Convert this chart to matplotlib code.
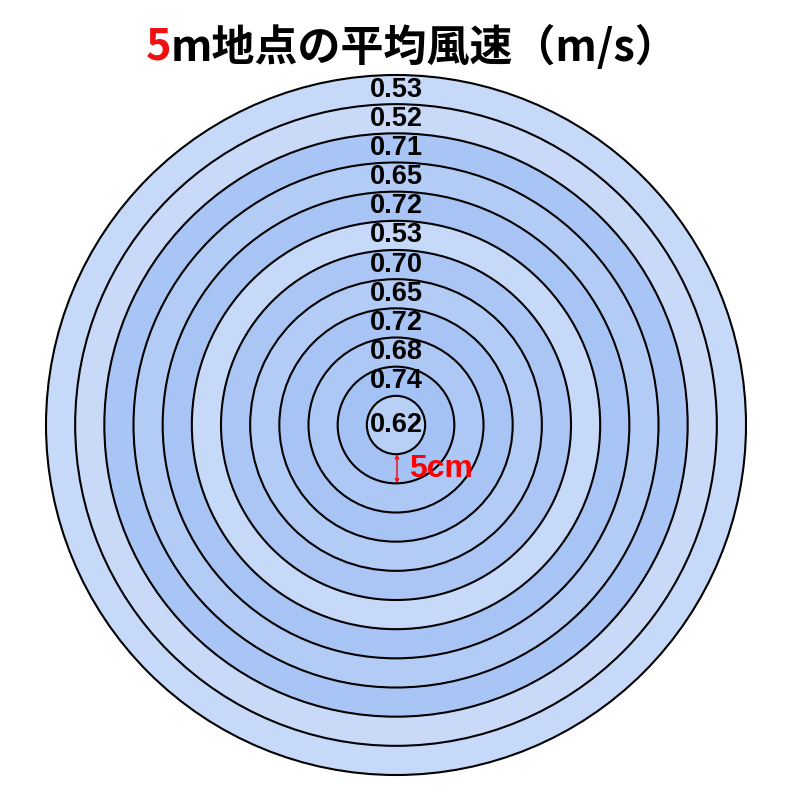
import matplotlib
matplotlib.use("Agg")
import matplotlib.pyplot as plt
from matplotlib.patches import Circle
from matplotlib.colors import LinearSegmentedColormap, Normalize

# Data: ring values from innermost (0-5cm) to outermost
ring_values = [0.62, 0.74, 0.68, 0.72, 0.65, 0.70, 0.53, 0.72, 0.65, 0.71, 0.52, 0.53]
ring_step_cm = 5
title_highlight = "5"
title_rest = "m地点の平均風速（m/s）"
scale_label = "5cm"

fig = plt.figure(figsize=(8, 8), dpi=100)
ax = fig.add_axes([0, 0, 1, 1])
ax.set_xlim(0, 800)
ax.set_ylim(800, 0)
ax.set_aspect("equal")
ax.axis("off")

cx, cy = 396, 425
px_per_cm = 350 / (ring_step_cm * len(ring_values))

cmap = LinearSegmentedColormap.from_list("b", ["#c9daf8", "#a4c2f4"])
norm = Normalize(min(ring_values), max(ring_values))

n = len(ring_values)
for i in range(n - 1, -1, -1):
    r = (i + 1) * ring_step_cm * px_per_cm
    ax.add_patch(Circle((cx, cy), r, facecolor=cmap(norm(ring_values[i])),
                        edgecolor="black", linewidth=1.5))

num_font = dict(family=["Liberation Sans", "DejaVu Sans"], fontsize=19.5, fontweight="bold")
for i, v in enumerate(ring_values):
    if i == 0:
        y = cy
    else:
        y = cy - (i + 0.5) * ring_step_cm * px_per_cm
    ax.text(cx, y, f"{v:.2f}", ha="center", va="center", color="black", **num_font)

# scale arrow
r1 = ring_step_cm * px_per_cm
r2 = 2 * ring_step_cm * px_per_cm
ax.annotate("", xy=(cx + 1, cy + r1), xytext=(cx + 1, cy + r2),
            arrowprops=dict(arrowstyle="<->", color="red", lw=1.0,
                            shrinkA=0, shrinkB=0, mutation_scale=6))
ax.text(cx + 13, cy + 44, scale_label, ha="left", va="center", color="red",
        family=["Liberation Sans", "DejaVu Sans"], fontsize=23, fontweight="bold")

# title
tfont = dict(family=["Noto Sans CJK JP", "DejaVu Sans"], fontsize=31, fontweight="bold")
t1 = fig.text(0, 0, title_highlight, color="#ee1111", ha="left", va="center", **tfont)
t2 = fig.text(0, 0, title_rest, color="black", ha="left", va="center", **tfont)
fig.canvas.draw()
rend = fig.canvas.get_renderer()
w1 = t1.get_window_extent(rend).width
w2 = t2.get_window_extent(rend).width
total = w1 + w2
x0 = 412 - total / 2
ty = 800 - 47
t1.set_position((x0 / 800, ty / 800))
t2.set_position(((x0 + w1) / 800, ty / 800))

fig.savefig("out.png", dpi=100)
